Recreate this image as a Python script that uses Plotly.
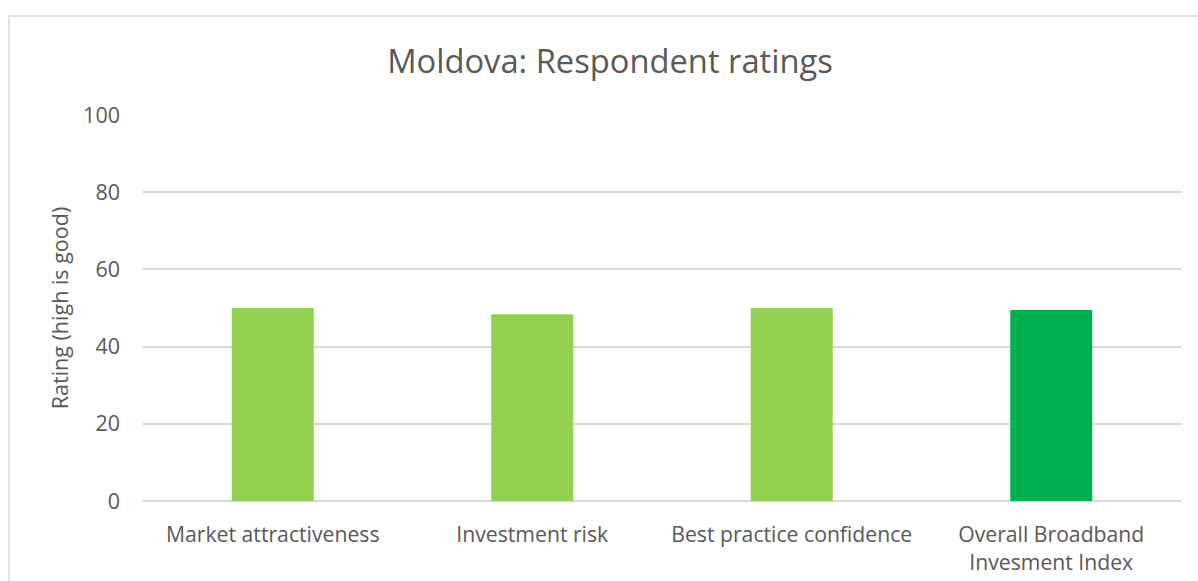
import plotly.graph_objects as go

categories = [
    "Market attractiveness",
    "Investment risk",
    "Best practice confidence",
    "Overall Broadband<br>Invesment Index",
]
ratings = [50.0, 48.4, 50.0, 49.5]
bar_colors = ["#92D050", "#92D050", "#92D050", "#00B050"]
y_ticks = [0, 20, 40, 60, 80, 100]

W, H = 1198, 581
L, R, T, B = 143, 17, 115, 80
plot_w = W - L - R
plot_h = H - T - B

text_color = "#595959"
grid_color = "#D9D9D9"
font_family = "Open Sans, Calibri, Carlito, sans-serif"

fig = go.Figure(
    go.Bar(
        x=categories,
        y=ratings,
        marker=dict(color=bar_colors, line=dict(width=0)),
        width=0.316,
        hoverinfo="x+y",
    )
)

# outer chart frame (extends past the right and bottom of the page)
fx0 = (9 - L) / plot_w
fy1 = (H - B - 16) / plot_h
fig.add_shape(
    type="rect", xref="paper", yref="paper",
    x0=fx0, x1=1.2, y0=-0.5, y1=fy1,
    line=dict(color=grid_color, width=1.5), fillcolor="rgba(0,0,0,0)",
    layer="below",
)

fig.update_layout(
    width=W,
    height=H,
    margin=dict(l=L, r=R, t=T, b=B, pad=0),
    paper_bgcolor="white",
    plot_bgcolor="white",
    font=dict(family=font_family, color=text_color, size=21.5),
    title=dict(
        text="Moldova: Respondent ratings",
        x=(610 / W), xanchor="center", xref="container",
        y=1 - 62 / H, yanchor="middle", yref="container",
        font=dict(size=32.7, color=text_color, family=font_family),
    ),
    showlegend=False,
    bargap=0.684,
)

fig.update_xaxes(
    showgrid=False,
    showline=False,
    ticks="",
    automargin=False,
    ticklabelstandoff=19,
    tickfont=dict(size=21.2, color=text_color),
    fixedrange=True,
)
fig.update_yaxes(
    range=[0, 100],
    tickvals=y_ticks,
    showgrid=True,
    gridcolor=grid_color,
    gridwidth=1.5,
    zeroline=True,
    zerolinecolor=grid_color,
    zerolinewidth=1.5,
    showline=False,
    ticks="",
    ticklabelstandoff=22,
    tickfont=dict(size=21.5, color=text_color),
    title=dict(text="Rating (high is good)", font=dict(size=21.5, color=text_color), standoff=8),
    fixedrange=True,
)

fig.write_html("out.html")
